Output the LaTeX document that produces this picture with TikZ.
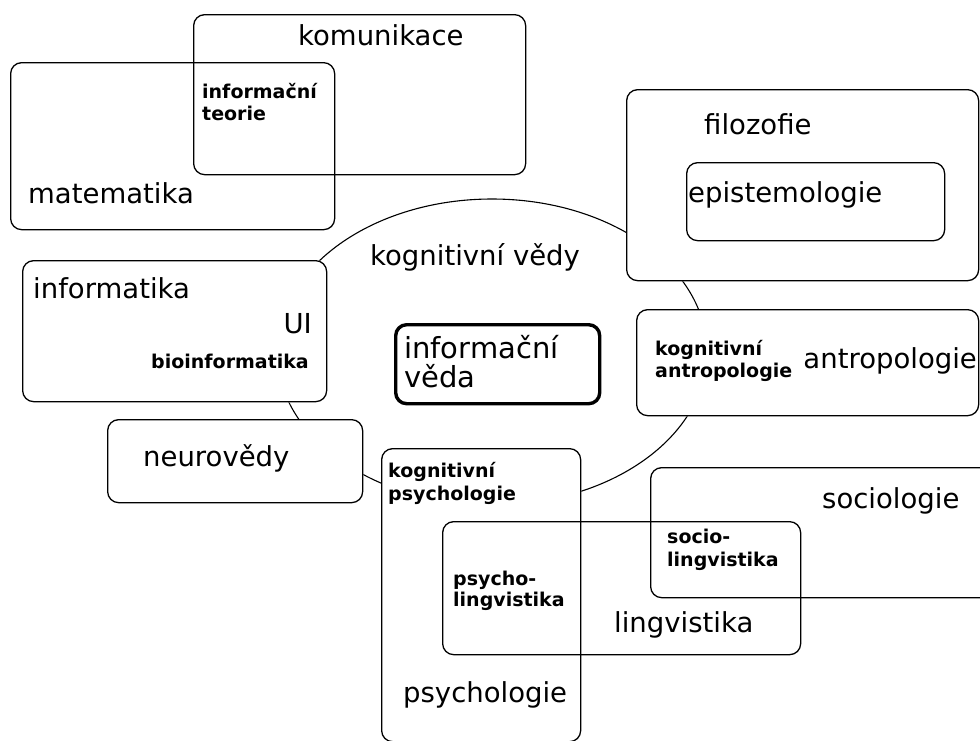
\documentclass[tikz,border=0pt]{standalone}
\usepackage{fontspec}
\setmainfont{DejaVu Sans}
\usetikzlibrary{shapes.geometric}
\pgfdeclarelayer{bg}
\pgfdeclarelayer{mask}
\pgfsetlayers{bg,mask,main}
\begin{document}
\begin{tikzpicture}[x=1pt,y=-1pt,
  box/.style={draw, rectangle, rounded corners=11pt, line width=1.3pt, inner sep=0pt, anchor=north west},
  thickbox/.style={box, line width=3.4pt},
  lab/.style={font=\fontsize{27.5}{30}\selectfont, inner sep=0pt, anchor=base west},
  biglab/.style={font=\fontsize{29}{30}\selectfont, inner sep=0pt, anchor=base west},
  blab/.style={font=\fontsize{19}{22}\selectfont\bfseries, inner sep=0pt, anchor=base west}]
\useasboundingbox (0,0) rectangle (980,740);

% boxes
\node[box, minimum width=332pt, minimum height=160pt] (kom) at (193,14) {};
\node[box, minimum width=324pt, minimum height=167pt] (mat) at (10,62) {};
\node[box, minimum width=352pt, minimum height=191pt] (fil) at (626,89) {};
\node[box, minimum width=258pt, minimum height=78pt] (epi) at (686,162) {};
\node[box, minimum width=342pt, minimum height=106pt] (ant) at (636,309) {};
\node[box, minimum width=304pt, minimum height=141pt] (inf) at (22,260) {};
\node[thickbox, minimum width=204pt, minimum height=79pt] (iv) at (394,323) {};
\node[box, minimum width=255pt, minimum height=83pt] (neu) at (107,419) {};
\node[box, minimum width=199pt, minimum height=293pt] (psy) at (381,448) {};
\node[box, minimum width=358pt, minimum height=133pt] (lin) at (442,521) {};
\node[box, minimum width=360pt, minimum height=130pt] (soc) at (650,467) {};

\begin{pgfonlayer}{mask}
  \foreach \n in {kom,mat,fil,ant,inf,iv,neu,psy,lin,soc}
    \fill[white, rounded corners=11pt] (\n.south west) rectangle (\n.north east);
\end{pgfonlayer}
\begin{pgfonlayer}{bg}
  \fill[white] (0,0) rectangle (980,740);
  \node[draw, ellipse, line width=1.1pt, minimum width=430pt, minimum height=306pt, inner sep=0pt] (kv) at (492,352) {};
\end{pgfonlayer}

% labels
\node[lab] (tkom) at (298,45) {komunikace};
\node[blab] (tit1) at (202,98) {informační};
\node[blab] (tit2) at (202,120) {teorie};
\node[lab] (tmat) at (28,203) {matematika};
\node[lab] (tfil) at (704,134) {filozofie};
\node[lab] (tepi) at (688,202) {epistemologie};
\node[lab] (tkv) at (370,265) {kognitivní vědy};
\node[lab] (tinf) at (33,298) {informatika};
\node[lab, anchor=base east] (tui) at (312,333) {UI};
\node[blab, anchor=base east] (tbio) at (309,368) {bioinformatika};
\node[biglab] (tiv1) at (404,358) {informační};
\node[biglab] (tiv2) at (404,387) {věda};
\node[blab] (tka1) at (655,355) {kognitivní};
\node[blab] (tka2) at (655,377) {antropologie};
\node[lab, anchor=base east] (tant) at (977,368) {antropologie};
\node[lab] (tneu) at (143,466) {neurovědy};
\node[blab] (tkp1) at (388,477) {kognitivní};
\node[blab] (tkp2) at (388,500) {psychologie};
\node[lab] (tsoc) at (822,508) {sociologie};
\node[blab] (tsl1) at (667,543) {socio-};
\node[blab] (tsl2) at (667,566) {lingvistika};
\node[blab] (tpl1) at (453,585) {psycho-};
\node[blab] (tpl2) at (453,606) {lingvistika};
\node[lab] (tlin) at (614,632) {lingvistika};
\node[lab] (tpsy) at (403,702) {psychologie};
\end{tikzpicture}
\end{document}
